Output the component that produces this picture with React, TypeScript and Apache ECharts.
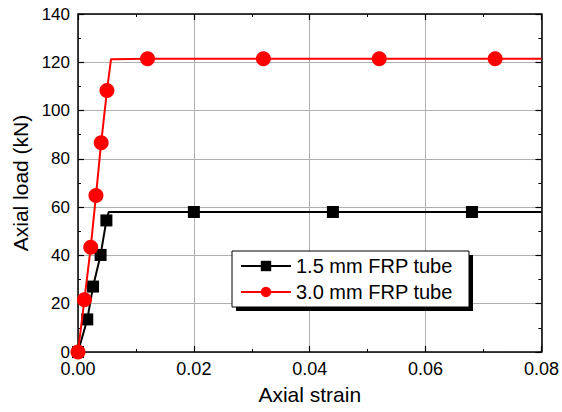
import React, { useEffect, useRef } from "react";
import * as echarts from "echarts";

const seriesNames = ["1.5 mm FRP tube", "3.0 mm FRP tube"];
// [strain, load(kN), showMarker(1/0)]
const thinTube: [number, number, number][] = [
  [0, 0, 1],
  [0.0016, 13.5, 1],
  [0.0026, 27.1, 1],
  [0.0039, 40.2, 1],
  [0.0049, 54.5, 1],
  [0.0053, 58, 0],
  [0.02, 58, 1],
  [0.044, 58, 1],
  [0.068, 58, 1],
  [0.08, 58, 0],
];
const thickTube: [number, number, number][] = [
  [0, 0, 1],
  [0.0011, 21.6, 1],
  [0.0022, 43.4, 1],
  [0.0031, 64.8, 1],
  [0.004, 86.7, 1],
  [0.005, 108.3, 1],
  [0.0057, 121.3, 0],
  [0.012, 121.5, 1],
  [0.032, 121.5, 1],
  [0.052, 121.5, 1],
  [0.072, 121.5, 1],
  [0.08, 121.5, 0],
];
const xTitle = "Axial strain";
const yTitle = "Axial load (kN)";

const FONT = "'Liberation Sans', Arial, sans-serif";

export default function App() {
  const ref = useRef<HTMLDivElement>(null);
  useEffect(() => {
    if (!ref.current) return;
    const chart = echarts.init(ref.current, undefined, { renderer: "svg" });
    const axisLine = { show: true, onZero: false, lineStyle: { color: "#000", width: 1.5 } };
    const tick = { show: true, inside: true, length: 6, lineStyle: { color: "#000", width: 1.2 } };
    const minor = { show: true, splitNumber: 2, length: 3, lineStyle: { color: "#000", width: 1 } };
    const mk = (d: [number, number, number][]) =>
      d.map(([x, y, m]) => (m ? [x, y] : { value: [x, y], symbol: "none" }));
    chart.setOption({
      animation: false,
      textStyle: { fontFamily: FONT },
      grid: { left: 78, right: 19, top: 14, bottom: 60 },
      graphic: [
        {
          type: "rect",
          z: 10,
          shape: { x: 236, y: 255, width: 237, height: 56 },
          style: { fill: "#000" },
        },
        {
          type: "rect",
          z: 10,
          shape: { x: 232, y: 251, width: 237, height: 56 },
          style: { fill: "#fff", stroke: "#000", lineWidth: 1 },
        },
      ],
      xAxis: [
        {
          type: "value",
          min: 0,
          max: 0.08,
          interval: 0.02,
          position: "bottom",
          axisLine,
          axisTick: tick,
          minorTick: minor,
          splitLine: { show: true, lineStyle: { color: "#b0b0b0", width: 1 } },
          axisLabel: {
            color: "#000",
            fontSize: 18,
            margin: 8,
            fontFamily: FONT,
            formatter: (v: number) => v.toFixed(2),
          },
          name: xTitle,
          nameLocation: "middle",
          nameGap: 32,
          nameTextStyle: { color: "#000", fontSize: 21, fontFamily: FONT },
        },
        {
          type: "value",
          min: 0,
          max: 0.08,
          interval: 0.02,
          position: "top",
          axisLine,
          axisTick: tick,
          minorTick: minor,
          splitLine: { show: false },
          axisLabel: { show: false },
        },
      ],
      yAxis: [
        {
          type: "value",
          min: 0,
          max: 140,
          interval: 20,
          position: "left",
          axisLine,
          axisTick: tick,
          minorTick: minor,
          splitLine: { show: true, lineStyle: { color: "#b0b0b0", width: 1 } },
          axisLabel: { color: "#000", fontSize: 17, margin: 8, fontFamily: FONT },
          name: yTitle,
          nameLocation: "middle",
          nameGap: 46,
          nameTextStyle: { color: "#000", fontSize: 21, fontFamily: FONT },
        },
        {
          type: "value",
          min: 0,
          max: 140,
          interval: 20,
          position: "right",
          axisLine,
          axisTick: tick,
          minorTick: minor,
          splitLine: { show: false },
          axisLabel: { show: false },
        },
      ],
      legend: {
        z: 11,
        orient: "vertical",
        left: 232,
        top: 251,
        itemWidth: 50,
        itemHeight: 13,
        itemGap: 6,
        padding: [5, 4, 5, 8],
        backgroundColor: "transparent",
        borderWidth: 0,
        textStyle: { color: "#000", fontSize: 20, fontFamily: FONT },
        data: seriesNames,
      },
      series: [
        {
          name: seriesNames[0],
          type: "line",
          data: mk(thinTube),
          symbol: "rect",
          symbolSize: 12,
          clip: false,
          lineStyle: { color: "#000", width: 2 },
          itemStyle: { color: "#000" },
          z: 3,
        },
        {
          name: seriesNames[1],
          type: "line",
          data: mk(thickTube),
          symbol: "circle",
          symbolSize: 15,
          clip: false,
          lineStyle: { color: "#ff0000", width: 2 },
          itemStyle: { color: "#ff0000" },
          z: 4,
        },
      ],
    });
    return () => chart.dispose();
  }, []);
  return <div ref={ref} style={{ width: 562, height: 412, position: "absolute", left: 0, top: 0 }} />;
}
